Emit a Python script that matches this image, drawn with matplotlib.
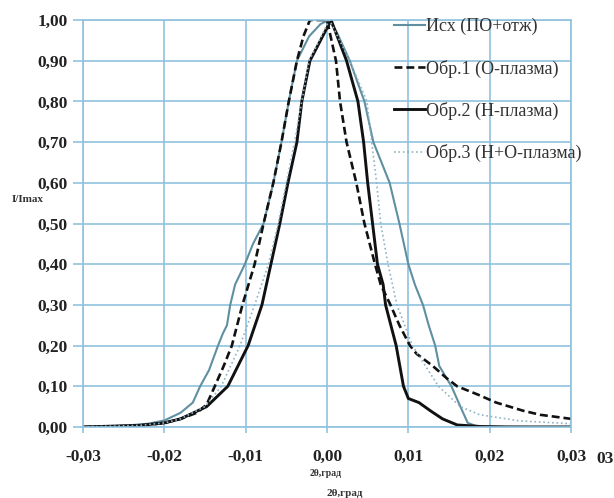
import matplotlib
matplotlib.use("Agg")
import matplotlib.pyplot as plt
from matplotlib.ticker import FuncFormatter, MultipleLocator

# Исх (ПО+отж)
x_ish = [-0.030, -0.025, -0.022, -0.020, -0.018, -0.0165, -0.0156, -0.0145, -0.0134,
         -0.0128, -0.0123, -0.0119, -0.0113, -0.0101, -0.0091, -0.0078, -0.0066,
         -0.0056, -0.0047, -0.0037, -0.0022, -0.0008, 0.0002, 0.0012, 0.0028, 0.0046,
         0.0057, 0.0067, 0.0077, 0.0089, 0.0100, 0.0108, 0.0118, 0.0125, 0.0133,
         0.0138, 0.0153, 0.0164, 0.0173, 0.0184, 0.021, 0.025, 0.030]
y_ish = [0.000, 0.003, 0.008, 0.016, 0.035, 0.06, 0.10, 0.14, 0.20,
         0.23, 0.25, 0.30, 0.35, 0.40, 0.45, 0.50, 0.60,
         0.70, 0.80, 0.90, 0.96, 0.99, 1.00, 0.97, 0.90, 0.80,
         0.70, 0.65, 0.60, 0.50, 0.40, 0.35, 0.30, 0.25, 0.20,
         0.15, 0.10, 0.05, 0.01, 0.002, 0.001, 0.000, 0.000]

# Обр.1 (О-плазма)
x_o1 = [-0.030, -0.025, -0.022, -0.020, -0.018, -0.016, -0.0148, -0.0138, -0.0127,
        -0.0117, -0.0104, -0.0089, -0.0078, -0.0066, -0.0056, -0.0047, -0.0037,
        -0.0029, -0.0021, -0.0010, 0.0000, 0.0011, 0.0016, 0.0024, 0.0030, 0.0036,
        0.0046, 0.0059, 0.0066, 0.0078, 0.0089, 0.0102, 0.0110, 0.0130, 0.0147,
        0.0160, 0.0185, 0.0208, 0.0241, 0.0262, 0.030]
y_o1 = [0.000, 0.002, 0.005, 0.010, 0.020, 0.035, 0.055, 0.10, 0.15,
        0.20, 0.30, 0.40, 0.50, 0.60, 0.70, 0.80, 0.90,
        0.96, 1.00, 1.00, 1.00, 0.90, 0.80, 0.70, 0.65, 0.60,
        0.50, 0.40, 0.35, 0.30, 0.25, 0.20, 0.18, 0.15, 0.12,
        0.10, 0.08, 0.06, 0.04, 0.03, 0.02]

# Обр.2 (Н-плазма)
x_o2 = [-0.030, -0.023, -0.020, -0.018, -0.0148, -0.0122, -0.0097, -0.0080, -0.0069,
        -0.0058, -0.0048, -0.0037, -0.0031, -0.0021, 0.0005, 0.0024, 0.0038, 0.0045,
        0.0050, 0.0056, 0.0062, 0.0069, 0.0072, 0.0085, 0.0094, 0.0100, 0.0113,
        0.0127, 0.0142, 0.0160, 0.0190, 0.022, 0.030]
y_o2 = [0.000, 0.004, 0.010, 0.020, 0.05, 0.10, 0.20, 0.30, 0.40,
        0.50, 0.60, 0.70, 0.80, 0.90, 1.00, 0.90, 0.80, 0.70,
        0.60, 0.50, 0.40, 0.35, 0.30, 0.20, 0.10, 0.07, 0.06,
        0.04, 0.02, 0.005, 0.001, 0.000, 0.000]

# Обр.3 (Н+О-плазма)
x_o3 = [-0.030, -0.023, -0.020, -0.018, -0.0150, -0.0130, -0.0107, -0.0089, -0.0072,
        -0.0060, -0.0050, -0.0040, -0.0031, -0.0022, 0.0003, 0.0028, 0.0049, 0.0055,
        0.0061, 0.0066, 0.0075, 0.0086, 0.0105, 0.0137, 0.0164, 0.0188, 0.0237, 0.030]
y_o3 = [0.000, 0.004, 0.010, 0.020, 0.05, 0.10, 0.20, 0.30, 0.40,
        0.50, 0.60, 0.70, 0.80, 0.90, 1.00, 0.90, 0.80, 0.70,
        0.60, 0.50, 0.40, 0.30, 0.20, 0.10, 0.05, 0.03, 0.015, 0.008]

labels = ["Исх (ПО+отж)", "Обр.1 (О-плазма)", "Обр.2 (Н-плазма)", "Обр.3 (Н+О-плазма)"]

grid_c = "#90c2de"
plt.rcParams["font.family"] = ["Liberation Serif", "DejaVu Serif"]

fig = plt.figure(figsize=(6.14, 4.98), dpi=100)
ax = fig.add_axes([0.1352, 0.1426, 0.7948, 0.8172])

ax.plot(x_ish, y_ish, color="#5f8fa0", lw=1.5, label=labels[0])
ax.plot(x_o1, y_o1, color="#111111", lw=1.9, ls=(0, (3, 1.5)), label=labels[1])
ax.plot(x_o2, y_o2, color="#111111", lw=2.1, label=labels[2])
ax.plot(x_o3, y_o3, color="#8fb3c4", lw=1.2, ls=":", label=labels[3])

ax.set_xlim(-0.03, 0.03)
ax.set_ylim(0, 1.0)
ax.xaxis.set_major_locator(MultipleLocator(0.01))
ax.yaxis.set_major_locator(MultipleLocator(0.1))
fmt = FuncFormatter(lambda v, p: f"{v:.2f}".replace(".", ",").replace("-0,00", "0,00"))
ax.xaxis.set_major_formatter(fmt)
ax.yaxis.set_major_formatter(fmt)
ax.grid(True, color=grid_c, lw=1.2)
ax.set_axisbelow(True)
for s in ax.spines.values():
    s.set_color(grid_c)
    s.set_linewidth(1.2)
ax.tick_params(axis="y", length=7, width=1.2, color=grid_c, pad=4, labelsize=12.5)
ax.tick_params(axis="x", length=4, width=1.2, color=grid_c, pad=12, labelsize=12.5)
for t in ax.get_xticklabels() + ax.get_yticklabels():
    t.set_fontweight("bold")
    t.set_color("#222222")

leg = ax.legend(loc="upper left", bbox_to_anchor=(0.637, 1.005), frameon=False,
                handlelength=1.7, handletextpad=0.1, labelspacing=1.34,
                borderpad=0, borderaxespad=0, fontsize=13)
for t in leg.get_texts():
    t.set_color("#333333")

fig.text(12 / 614, 1 - 200 / 498, "I/Imax", fontsize=8, fontweight="bold",
         ha="left", va="center", color="#333333")
fig.text(326 / 614, 1 - 473 / 498, "2θ,град", fontsize=7, fontweight="bold",
         ha="center", va="center", color="#333333")
fig.text(345 / 614, 1 - 493 / 498, "2θ,град", fontsize=8, fontweight="bold",
         ha="center", va="center", color="#333333")
fig.text(1.0, 1 - 459 / 498, "03", fontsize=12.5, fontweight="bold",
         ha="right", va="center", color="#222222")

fig.savefig("out.png", dpi=100)
